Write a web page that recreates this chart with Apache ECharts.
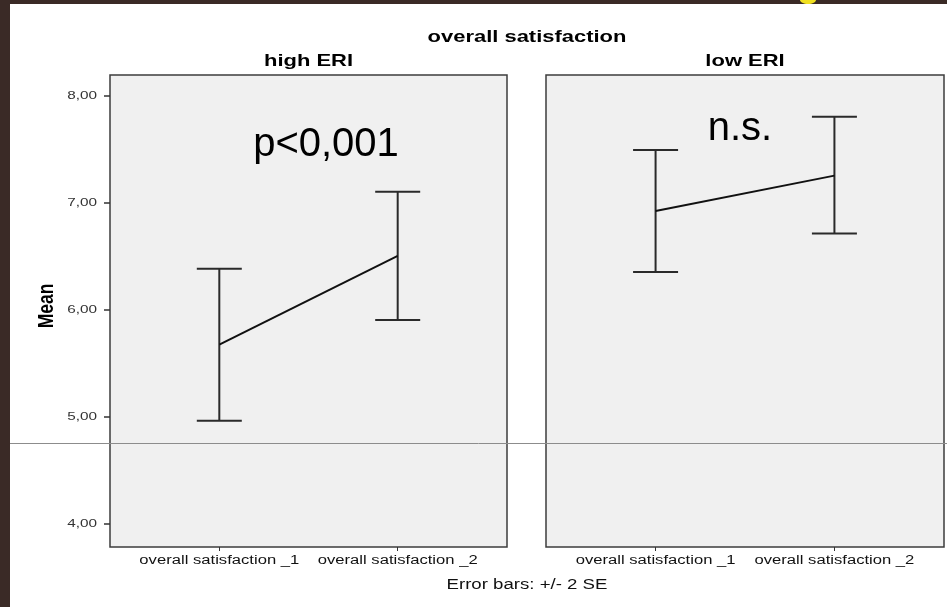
<!DOCTYPE html>
<html>
<head>
<meta charset="utf-8">
<script src="https://cdn.jsdelivr.net/npm/echarts@6/dist/echarts.min.js"></script>
<style>
html,body{margin:0;padding:0;background:#3a2a26;}
#c{width:947px;height:607px;}
</style>
</head>
<body>
<div id="c"></div>
<script>
const categories = ['overall satisfaction _1', 'overall satisfaction _2'];
const panels = ['high ERI', 'low ERI'];
const highMean = [5.67, 6.50];
const highLower = [4.96, 5.90];
const highUpper = [6.38, 7.10];
const lowMean = [6.92, 7.25];
const lowLower = [6.35, 6.71];
const lowUpper = [7.49, 7.80];
const yTicks = [4, 5, 6, 7, 8];
const annotations = ['p<0,001', 'n.s.'];

const FONT = 'Liberation Sans, Arial, sans-serif';
const SX = 1.33;           // horizontal stretch of the original SPSS picture
const X_MIN = 0.3873, X_MAX = 2.6127, Y_MIN = 3.78, Y_MAX = 8.19;
const chart = echarts.init(document.getElementById('c'), null, {renderer: 'canvas'});

function errData(lower, upper) {
  return lower.map((l, i) => [i + 1, l, upper[i]]);
}
function meanData(m) { return m.map((v, i) => [i + 1, v]); }

function errRender(params, api) {
  const x = api.value(0);
  const lo = api.coord([x, api.value(1)]);
  const hi = api.coord([x, api.value(2)]);
  const hw = 22.5;
  const style = {stroke: '#2a2a2a', lineWidth: 2};
  return {
    type: 'group',
    children: [
      {type: 'line', shape: {x1: lo[0], y1: lo[1], x2: hi[0], y2: hi[1]}, style},
      {type: 'line', shape: {x1: lo[0] - hw, y1: lo[1], x2: lo[0] + hw, y2: lo[1]}, style},
      {type: 'line', shape: {x1: hi[0] - hw, y1: hi[1], x2: hi[0] + hw, y2: hi[1]}, style}
    ]
  };
}

// category labels under each panel, drawn through the axis scale
function xLabelRender(params, api) {
  const x = api.value(0);
  const p = api.coord([x, Y_MIN]);
  return {
    type: 'text', x: p[0], y: p[1] + 14, scaleX: SX,
    style: {text: categories[x - 1], x: 0, y: 0, fontFamily: FONT, fontSize: 12.5,
      fill: '#111', textAlign: 'center', textVerticalAlign: 'middle'}
  };
}
const fmt = v => v.toFixed(2).replace('.', ',');
function yLabelRender(params, api) {
  const v = api.value(0);
  const p = api.coord([X_MIN, v]);
  return {
    type: 'text', x: p[0] - 13, y: p[1], scaleX: SX,
    style: {text: fmt(v), x: 0, y: 0, fontFamily: FONT, fontSize: 11.5,
      fill: '#333', textAlign: 'right', textVerticalAlign: 'middle'}
  };
}

function xAxis(idx) {
  return {
    type: 'value', gridIndex: idx, min: X_MIN, max: X_MAX,
    axisLine: {show: false}, splitLine: {show: false},
    axisTick: {show: true, customValues: [1, 2], length: 4, lineStyle: {color: '#333'}},
    axisLabel: {show: false}
  };
}
function yAxis(idx, showTicks) {
  return {
    type: 'value', gridIndex: idx, min: Y_MIN, max: Y_MAX,
    axisLine: {show: false}, splitLine: {show: false},
    axisTick: {show: showTicks, customValues: yTicks, length: 6, lineStyle: {color: '#333', width: 1.5}},
    axisLabel: {show: false}
  };
}

chart.setOption({
  backgroundColor: '#ffffff',
  animation: false,
  grid: [
    {left: 110, top: 75, width: 397, height: 472, show: true, backgroundColor: '#f0f0f0', borderColor: '#3c3c3c', borderWidth: 1.5},
    {left: 546, top: 75, width: 398, height: 472, show: true, backgroundColor: '#f0f0f0', borderColor: '#3c3c3c', borderWidth: 1.5}
  ],
  xAxis: [xAxis(0), xAxis(1)],
  yAxis: [yAxis(0, true), yAxis(1, false)],
  series: [
    {type: 'line', xAxisIndex: 0, yAxisIndex: 0, data: meanData(highMean), showSymbol: false, symbol: 'none',
      lineStyle: {color: '#111', width: 2}, z: 3},
    {type: 'custom', xAxisIndex: 0, yAxisIndex: 0, data: errData(highLower, highUpper), renderItem: errRender, z: 2},
    {type: 'line', xAxisIndex: 1, yAxisIndex: 1, data: meanData(lowMean), showSymbol: false, symbol: 'none',
      lineStyle: {color: '#111', width: 2}, z: 3},
    {type: 'custom', xAxisIndex: 1, yAxisIndex: 1, data: errData(lowLower, lowUpper), renderItem: errRender, z: 2},
    {type: 'custom', xAxisIndex: 0, yAxisIndex: 0, data: [[1], [2]], renderItem: xLabelRender, clip: false, silent: true},
    {type: 'custom', xAxisIndex: 1, yAxisIndex: 1, data: [[1], [2]], renderItem: xLabelRender, clip: false, silent: true},
    {type: 'custom', xAxisIndex: 0, yAxisIndex: 0, data: yTicks.map(v => [v]), renderItem: yLabelRender, clip: false, silent: true}
  ],
  graphic: [
    {type: 'rect', left: 0, top: 0, shape: {width: 10, height: 607}, style: {fill: '#3a2a26'}, z: 100},
    {type: 'rect', left: 0, top: 0, shape: {width: 947, height: 4}, style: {fill: '#3a2a26'}, z: 100},
    {type: 'ellipse', shape: {cx: 808, cy: 0, rx: 8, ry: 4}, style: {fill: '#f0e020'}, z: 101},
    {type: 'line', shape: {x1: 10, y1: 443.5, x2: 947, y2: 443.5}, style: {stroke: '#8c8c8c', lineWidth: 1}, z: 100},
    {type: 'text', x: 527, y: 37, scaleX: SX, style: {text: 'overall satisfaction', fontFamily: FONT, fontSize: 16.5, fontWeight: 'bold', fill: '#000', textAlign: 'center', textVerticalAlign: 'middle'}},
    {type: 'text', x: 308.5, y: 61, scaleX: SX, style: {text: panels[0], fontFamily: FONT, fontSize: 16.5, fontWeight: 'bold', fill: '#000', textAlign: 'center', textVerticalAlign: 'middle'}},
    {type: 'text', x: 745, y: 61, scaleX: SX, style: {text: panels[1], fontFamily: FONT, fontSize: 16.5, fontWeight: 'bold', fill: '#000', textAlign: 'center', textVerticalAlign: 'middle'}},
    {type: 'text', x: 47, y: 306, rotation: Math.PI / 2, scaleY: 1.25, style: {text: 'Mean', fontFamily: FONT, fontSize: 17.5, fontWeight: 'bold', fill: '#000', textAlign: 'center', textVerticalAlign: 'middle'}},
    {type: 'text', x: 527, y: 585, scaleX: SX, style: {text: 'Error bars: +/- 2 SE', fontFamily: FONT, fontSize: 14, fill: '#111', textAlign: 'center', textVerticalAlign: 'middle'}},
    {type: 'text', x: 326, y: 165, style: {text: annotations[0], fontFamily: FONT, fontSize: 40, fill: '#000', textAlign: 'center', textVerticalAlign: 'bottom'}, z: 50},
    {type: 'text', x: 740, y: 149, style: {text: annotations[1], fontFamily: FONT, fontSize: 40, fill: '#000', textAlign: 'center', textVerticalAlign: 'bottom'}, z: 50}
  ]
});
</script>
</body>
</html>
